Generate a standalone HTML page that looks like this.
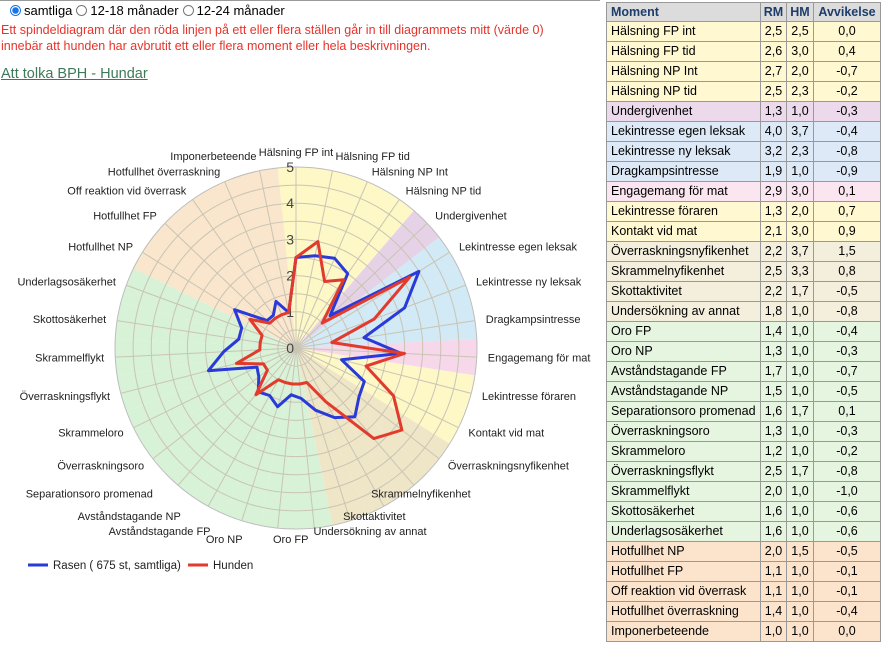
<!DOCTYPE html>
<html><head><meta charset="utf-8">
<style>
body{margin:0;width:887px;height:646px;overflow:hidden;background:#fff;font-family:"Liberation Sans",sans-serif;position:relative}
.top{position:absolute;left:0;top:0;width:600px;border-top:1px solid #999}
.radios{position:absolute;left:6px;top:3px;font-size:13px;color:#000;display:flex;align-items:center}
.radio{display:inline-block;width:11px;height:11px;border:1px solid #777;border-radius:50%;margin:0 3px 0 4px;box-sizing:border-box;background:#fff}
.radio.on{border:1px solid #1a73e8;background:radial-gradient(circle,#1a73e8 0 3px,#fff 3.5px)}
.info{position:absolute;left:1px;top:22px;font-size:12.5px;color:#e8322a;line-height:16px}
.link{position:absolute;left:1px;top:66px;font-size:14.5px;color:#3c7a5a;text-decoration:underline}
#tbl{position:absolute;left:606px;top:3px}
.row{position:absolute;left:0;height:20px;font-size:12.5px;color:#000}
.c{position:absolute;top:0;height:20px;line-height:19px;border-left:1px solid #999;border-bottom:1px solid #999;box-sizing:border-box}
.hd .c{font-weight:bold;color:#1d3e6b;background:#dcdcdc}
</style></head><body>
<div class="top"></div>
<div class="radios">
<span class="radio on"></span><span>samtliga</span>
<span class="radio"></span><span>12-18 månader</span>
<span class="radio"></span><span>12-24 månader</span>
</div>
<div class="info">Ett spindeldiagram där den röda linjen på ett eller flera ställen går in till diagrammets mitt (värde 0)<br>innebär att hunden har avbrutit ett eller flera moment eller hela beskrivningen.</div>
<a class="link">Att tolka BPH - Hundar</a>

<svg id="chart" width="600" height="646" style="position:absolute;left:0;top:0"></svg>
<div id="tbl"></div>

<script>
const categories=["Hälsning FP int","Hälsning FP tid","Hälsning NP Int","Hälsning NP tid","Undergivenhet","Lekintresse egen leksak","Lekintresse ny leksak","Dragkampsintresse","Engagemang för mat","Lekintresse föraren","Kontakt vid mat","Överraskningsnyfikenhet","Skrammelnyfikenhet","Skottaktivitet","Undersökning av annat","Oro FP","Oro NP","Avståndstagande FP","Avståndstagande NP","Separationsoro promenad","Överraskningsoro","Skrammeloro","Överraskningsflykt","Skrammelflykt","Skottosäkerhet","Underlagsosäkerhet","Hotfullhet NP","Hotfullhet FP","Off reaktion vid överrask","Hotfullhet överraskning","Imponerbeteende"];
const rmValues=[2.5,2.6,2.7,2.5,1.3,4.0,3.2,1.9,2.9,1.3,2.1,2.2,2.5,2.2,1.8,1.4,1.3,1.7,1.5,1.6,1.3,1.2,2.5,2.0,1.6,1.6,2.0,1.1,1.1,1.4,1.0];
const hmValues=[2.5,3.0,2.0,2.3,1.0,3.7,2.3,1.0,3.0,2.0,3.0,3.7,3.3,1.7,1.0,1.0,1.0,1.0,1.0,1.7,1.0,1.0,1.7,1.0,1.0,1.0,1.5,1.0,1.0,1.0,1.0];
const devValues=[0.0,0.4,-0.7,-0.2,-0.3,-0.4,-0.8,-0.9,0.1,0.7,0.9,1.5,0.8,-0.5,-0.8,-0.4,-0.3,-0.7,-0.5,0.1,-0.3,-0.2,-0.8,-1.0,-0.6,-0.6,-0.5,-0.1,-0.1,-0.4,0.0];
const groups=["y","y","y","y","p","b","b","b","k","y","y","e","e","e","e","g","g","g","g","g","g","g","g","g","g","g","o","o","o","o","o"];
const tickLabels=["0","1","2","3","4","5"];
const legendLabels=["Rasen ( 675 st, samtliga)","Hunden"];

const sectorFill={y:"#fdf8c6",p:"#e6d2e6",b:"#d2e9f6",k:"#f6d8ea",e:"#efe6c8",g:"#d8f2d7",o:"#f9e6cc"};
const rowFill={y:"#fff8d0",p:"#ecd9ec",b:"#dde9f7",k:"#fae5f1",e:"#f3efdc",g:"#e6f5df",o:"#fbe4cb"};
const labelNudge={12:-50,13:-46,14:-40,15:-7,16:-34,17:-28,18:-22,19:-18};

const NS="http://www.w3.org/2000/svg";
const svg=document.getElementById("chart");
const cx=296,cy=348,R=181,maxV=5;
const n=categories.length;
const ang=i=>i*2*Math.PI/n;
const rScale=v=>v/maxV*R;
const px=(i,v)=>cx+rScale(v)*Math.sin(ang(i));
const py=(i,v)=>cy-rScale(v)*Math.cos(ang(i));
function mk(t,a){const e=document.createElementNS(NS,t);for(const k in a)e.setAttribute(k,a[k]);svg.appendChild(e);return e;}

for(let i=0;i<n;i++){
  const a0=ang(i)-Math.PI/n,a1=ang(i)+Math.PI/n;
  const e=mk("path",{d:`M${cx},${cy}L${cx+R*Math.sin(a0)},${cy-R*Math.cos(a0)}A${R},${R} 0 0 1 ${cx+R*Math.sin(a1)},${cy-R*Math.cos(a1)}Z`,fill:sectorFill[groups[i]]});
  
  
}
for(let k=1;k<=10;k++){
  const e=mk("circle",{cx:cx,cy:cy,r:rScale(k*0.5),fill:"none",stroke:k==10?"#bdbdbd":"#c9c4b4","stroke-width":1});
  
  
}
for(let i=0;i<n;i++){
  const e=mk("line",{x1:cx,y1:cy,x2:px(i,maxV),y2:py(i,maxV),stroke:"#c9c4b4","stroke-width":1});
  
  
}
tickLabels.forEach((t,k)=>{
  const e=mk("text",{x:cx-2,y:cy-rScale(+t)+5,"text-anchor":"end","font-size":"14","fill":"#444"});
  e.textContent=t;
  
  
});
categories.forEach((c,i)=>{
  const s=Math.sin(ang(i)),co=Math.cos(ang(i));
  let anchor=Math.abs(s)<0.05?"middle":(s>0?"start":"end");
  if(co<-0.98)anchor="end";
  const rr=co>0.95?196:192;
  const x=cx+rr*s+(labelNudge[i]||0),y=cy-rr*co+4;
  const e=mk("text",{x:x,y:y,"text-anchor":anchor,"font-size":"11","fill":"#222"});
  e.textContent=c;
  
  
});
function poly(vals,color,name){
  const pts=vals.map((v,i)=>px(i,v).toFixed(1)+","+py(i,v).toFixed(1)).join(" ");
  const e=mk("polygon",{points:pts,fill:"none",stroke:color,"stroke-width":3,"stroke-linejoin":"round"});
  
  
}
poly(rmValues,"#2a3ad8","series-rasen");
poly(hmValues,"#e23a2c","series-hunden");
[[28,"#2a3ad8"],[188,"#e23a2c"]].forEach((l,j)=>{
  const ln=mk("line",{x1:l[0],y1:565,x2:l[0]+20,y2:565,stroke:l[1],"stroke-width":3});
  
  
  const t=mk("text",{x:l[0]+25,y:569,"font-size":"11.5","fill":"#222"});
  t.textContent=legendLabels[j];
  
  
});

const tbl=document.getElementById("tbl");
const cols=[[0,154,"left"],[154,26,"center"],[180,27,"center"],[207,67,"center"]];
function addRow(cells,y,bg,hd){
  const r=document.createElement("div");
  r.className="row"+(hd?" hd":"");
  r.style.top=y+"px";
  
  
  cells.forEach((t,j)=>{
    const c=document.createElement("div");
    c.className="c";
    c.style.left=cols[j][0]+"px";c.style.width=(cols[j][1]+(j==3?1:0))+"px";
    c.style.textAlign=cols[j][2];
    if(j==0)c.style.paddingLeft="4px";
    if(j==3)c.style.borderRight="1px solid #999";
    if(hd)c.style.borderTop="1px solid #999";
    if(!hd)c.style.background=bg;
    c.textContent=t;
    r.appendChild(c);
  });
  tbl.appendChild(r);
}
const f=v=>v.toFixed(1).replace(".",",");
addRow(["Moment","RM","HM","Avvikelse"],-1,null,true);
categories.forEach((c,i)=>{
  addRow([c,f(rmValues[i]),f(hmValues[i]),f(devValues[i])],19+i*20,rowFill[groups[i]],false);
});
</script>
</body></html>
